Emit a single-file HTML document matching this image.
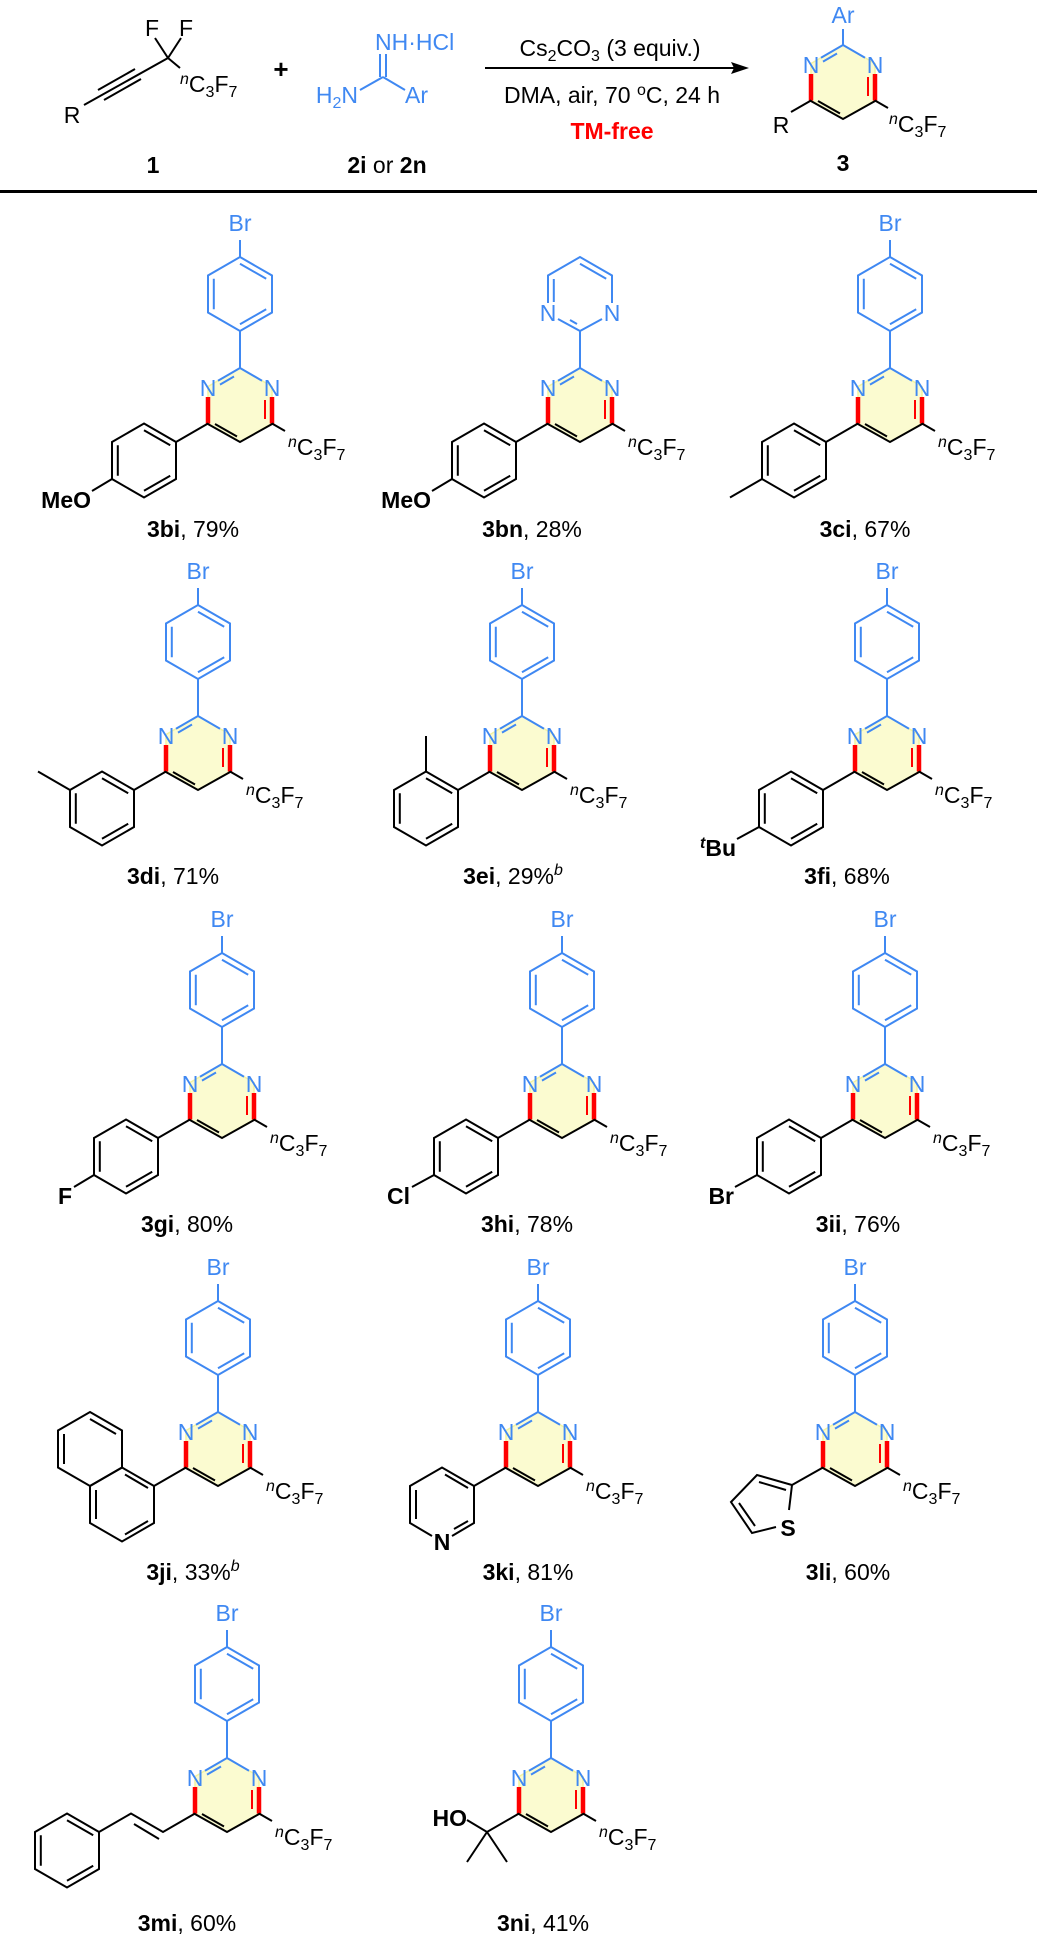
<!DOCTYPE html>
<html><head><meta charset="utf-8"><style>
html,body{margin:0;padding:0;background:#fff;}
svg{display:block;}
text{font-family:"Liberation Sans",Arial,sans-serif;}
</style></head><body>
<svg width="1037" height="1939" viewBox="0 0 1037 1939" xmlns="http://www.w3.org/2000/svg">
<defs>
<g id="hexA" fill="none">
  <polygon points="0,-37 32,-18.5 32,18.5 0,37 -32,18.5 -32,-18.5"/>
  <path d="M0,-30.3 L26.2,-15.2 M26.2,15.2 L0,30.3 M-26.2,15.2 L-26.2,-15.2"/>
</g>
<g id="pyr">
  <polygon points="0,0 -32,18.5 -32,55.5 0,74 32,55.5 32,18.5" fill="#fbfbd0" stroke="#f3f3a0" stroke-width="1.5"/>
  <g stroke="#3f88f2" stroke-width="2" fill="none">
    <path d="M0,0 L-22,12.7 M0,0 L22,12.7 M-6,8.5 L-20,16.6"/>
  </g>
  <path d="M-32,29 L-32,55.5" stroke="#ff0000" stroke-width="4.5"/>
  <path d="M32,29 L32,55.5" stroke="#ff0000" stroke-width="4.5"/>
  <path d="M25,32 L25,51" stroke="#ff0000" stroke-width="2"/>
  <g stroke="#000" stroke-width="2" fill="none">
    <path d="M-33,55.5 L0,74 L33,55.5 M-25,56 L-3,68.5 M32,55.5 L45,63"/>
  </g>
</g>
<g id="brph">
  <g stroke="#3f88f2" stroke-width="2" fill="none">
    <path d="M0,0 L0,-37 M0,-111 L0,-128"/>
    <use href="#hexA" transform="translate(0,-74)"/>
  </g>
</g>
<g id="aryl">
  <g stroke="#000" stroke-width="2" fill="none">
    <path d="M-32,55.5 L-64,74"/>
    <use href="#hexA" transform="translate(-96,92.5)"/>
  </g>
</g>
</defs>

<!-- ===== HEADER ===== -->
<g stroke="#000" stroke-width="2" fill="none">
  <path d="M168,58 L155,38 M168,58 L181,38 M168,58 L180,68"/>
  <path d="M168,58 L84,105"/>
  <path d="M141,79 L104,100 M135,69 L98,90"/>
</g>
<text x="152" y="36" font-size="23" text-anchor="middle">F</text>
<text x="186" y="36" font-size="23" text-anchor="middle">F</text>
<text x="180" y="92" font-size="23"><tspan font-style="italic" font-size="16" dy="-8">n</tspan><tspan dy="8">C</tspan><tspan font-size="16" dy="5">3</tspan><tspan dy="-5">F</tspan><tspan font-size="16" dy="5">7</tspan></text>
<text x="72" y="123" font-size="23" text-anchor="middle">R</text>
<text x="153" y="173" font-size="23" font-weight="bold" text-anchor="middle">1</text>
<text x="281" y="78" font-size="26" font-weight="bold" text-anchor="middle">+</text>

<g stroke="#3f88f2" stroke-width="2" fill="none">
  <path d="M380,54 L380,77 M386,54 L386,77 M383,77 L360,90 M383,77 L405,90"/>
</g>
<text x="375" y="50" font-size="23" fill="#3f88f2">NH·HCl</text>
<text x="358" y="103" font-size="23" fill="#3f88f2" text-anchor="end">H<tspan font-size="16" dy="5">2</tspan><tspan dy="-5">N</tspan></text>
<text x="405" y="103" font-size="23" fill="#3f88f2">Ar</text>
<text x="387" y="173" font-size="23" text-anchor="middle"><tspan font-weight="bold">2i</tspan> or <tspan font-weight="bold">2n</tspan></text>

<path d="M485,68 L740,68" stroke="#000" stroke-width="2"/>
<path d="M749,68 L731,62 L734,68 L731,74 Z" fill="#000"/>
<text x="610" y="56" font-size="23" text-anchor="middle">Cs<tspan font-size="16" dy="5">2</tspan><tspan dy="-5">CO</tspan><tspan font-size="16" dy="5">3</tspan><tspan dy="-5"> (3 equiv.)</tspan></text>
<text x="612" y="103" font-size="23" text-anchor="middle">DMA, air, 70 <tspan font-size="16" dy="-8">o</tspan><tspan dy="8">C, 24 h</tspan></text>
<text x="612" y="139" font-size="23" font-weight="bold" fill="#ff0000" text-anchor="middle">TM-free</text>

<g transform="translate(843,45)">
  <use href="#pyr"/>
  <path d="M0,0 L0,-16" stroke="#3f88f2" stroke-width="2"/>
  <path d="M-32,55.5 L-52,67" stroke="#000" stroke-width="2"/>
</g>
<text x="843" y="23" font-size="23" fill="#3f88f2" text-anchor="middle">Ar</text>
<text x="811" y="73" font-size="23" fill="#3f88f2" text-anchor="middle">N</text>
<text x="875" y="73" font-size="23" fill="#3f88f2" text-anchor="middle">N</text>
<text x="781" y="133" font-size="23" text-anchor="middle">R</text>
<text x="889" y="132" font-size="23"><tspan font-style="italic" font-size="16" dy="-8">n</tspan><tspan dy="8">C</tspan><tspan font-size="16" dy="5">3</tspan><tspan dy="-5">F</tspan><tspan font-size="16" dy="5">7</tspan></text>
<text x="843" y="171" font-size="23" font-weight="bold" text-anchor="middle">3</text>

<rect x="0" y="190" width="1037" height="3" fill="#000"/>

<!-- ===== ROW 1 ===== -->
<g transform="translate(240,368)">
  <use href="#pyr"/><use href="#brph"/><use href="#aryl"/>
  <path d="M-128,111 L-148,123" stroke="#000" stroke-width="2"/>
  <text x="0" y="-137" font-size="23" fill="#3f88f2" text-anchor="middle">Br</text>
  <text x="-32" y="28" font-size="23" fill="#3f88f2" text-anchor="middle">N</text>
  <text x="32" y="28" font-size="23" fill="#3f88f2" text-anchor="middle">N</text>
  <text x="48" y="87" font-size="23"><tspan font-style="italic" font-size="16" dy="-8">n</tspan><tspan dy="8">C</tspan><tspan font-size="16" dy="5">3</tspan><tspan dy="-5">F</tspan><tspan font-size="16" dy="5">7</tspan></text>
  <text x="-149" y="140" font-size="23" font-weight="bold" text-anchor="end">MeO</text>
</g>
<text x="193" y="537" font-size="23" text-anchor="middle"><tspan font-weight="bold">3bi</tspan>, 79%</text>

<g transform="translate(580,368)">
  <use href="#pyr"/><use href="#aryl"/>
  <g stroke="#3f88f2" stroke-width="2" fill="none">
    <path d="M0,0 L0,-37 L-22,-49 M-32,-65 L-32,-92.5 L0,-111 L32,-92.5 L32,-65 M22,-49 L0,-37"/>
    <path d="M-26.2,-66 L-26.2,-89 M0,-104.3 L26.2,-89.2 M-3,-44 L-10,-48"/>
  </g>
  <text x="-32" y="-47" font-size="23" fill="#3f88f2" text-anchor="middle">N</text>
  <text x="32" y="-47" font-size="23" fill="#3f88f2" text-anchor="middle">N</text>
  <text x="-32" y="28" font-size="23" fill="#3f88f2" text-anchor="middle">N</text>
  <text x="32" y="28" font-size="23" fill="#3f88f2" text-anchor="middle">N</text>
  <text x="48" y="87" font-size="23"><tspan font-style="italic" font-size="16" dy="-8">n</tspan><tspan dy="8">C</tspan><tspan font-size="16" dy="5">3</tspan><tspan dy="-5">F</tspan><tspan font-size="16" dy="5">7</tspan></text>
  <path d="M-128,111 L-148,123" stroke="#000" stroke-width="2"/>
  <text x="-149" y="140" font-size="23" font-weight="bold" text-anchor="end">MeO</text>
</g>
<text x="532" y="537" font-size="23" text-anchor="middle"><tspan font-weight="bold">3bn</tspan>, 28%</text>

<g transform="translate(890,368)">
  <use href="#pyr"/><use href="#brph"/><use href="#aryl"/>
  <path d="M-128,111 L-160,129.5" stroke="#000" stroke-width="2"/>
  <text x="0" y="-137" font-size="23" fill="#3f88f2" text-anchor="middle">Br</text>
  <text x="-32" y="28" font-size="23" fill="#3f88f2" text-anchor="middle">N</text>
  <text x="32" y="28" font-size="23" fill="#3f88f2" text-anchor="middle">N</text>
  <text x="48" y="87" font-size="23"><tspan font-style="italic" font-size="16" dy="-8">n</tspan><tspan dy="8">C</tspan><tspan font-size="16" dy="5">3</tspan><tspan dy="-5">F</tspan><tspan font-size="16" dy="5">7</tspan></text>
</g>
<text x="865" y="537" font-size="23" text-anchor="middle"><tspan font-weight="bold">3ci</tspan>, 67%</text>

<!-- ===== ROW 2 ===== -->
<g transform="translate(198,716)">
  <use href="#pyr"/><use href="#brph"/><use href="#aryl"/>
  <path d="M-128,74 L-160,55.5" stroke="#000" stroke-width="2"/>
  <text x="0" y="-137" font-size="23" fill="#3f88f2" text-anchor="middle">Br</text>
  <text x="-32" y="28" font-size="23" fill="#3f88f2" text-anchor="middle">N</text>
  <text x="32" y="28" font-size="23" fill="#3f88f2" text-anchor="middle">N</text>
  <text x="48" y="87" font-size="23"><tspan font-style="italic" font-size="16" dy="-8">n</tspan><tspan dy="8">C</tspan><tspan font-size="16" dy="5">3</tspan><tspan dy="-5">F</tspan><tspan font-size="16" dy="5">7</tspan></text>
</g>
<text x="173" y="884" font-size="23" text-anchor="middle"><tspan font-weight="bold">3di</tspan>, 71%</text>

<g transform="translate(522,716)">
  <use href="#pyr"/><use href="#brph"/><use href="#aryl"/>
  <path d="M-96,55.5 L-96,20" stroke="#000" stroke-width="2"/>
  <text x="0" y="-137" font-size="23" fill="#3f88f2" text-anchor="middle">Br</text>
  <text x="-32" y="28" font-size="23" fill="#3f88f2" text-anchor="middle">N</text>
  <text x="32" y="28" font-size="23" fill="#3f88f2" text-anchor="middle">N</text>
  <text x="48" y="87" font-size="23"><tspan font-style="italic" font-size="16" dy="-8">n</tspan><tspan dy="8">C</tspan><tspan font-size="16" dy="5">3</tspan><tspan dy="-5">F</tspan><tspan font-size="16" dy="5">7</tspan></text>
</g>
<text x="513" y="884" font-size="23" text-anchor="middle"><tspan font-weight="bold">3ei</tspan>, 29%<tspan font-style="italic" font-size="16" dy="-9">b</tspan></text>

<g transform="translate(887,716)">
  <use href="#pyr"/><use href="#brph"/><use href="#aryl"/>
  <path d="M-128,111 L-150,123" stroke="#000" stroke-width="2"/>
  <text x="0" y="-137" font-size="23" fill="#3f88f2" text-anchor="middle">Br</text>
  <text x="-32" y="28" font-size="23" fill="#3f88f2" text-anchor="middle">N</text>
  <text x="32" y="28" font-size="23" fill="#3f88f2" text-anchor="middle">N</text>
  <text x="48" y="87" font-size="23"><tspan font-style="italic" font-size="16" dy="-8">n</tspan><tspan dy="8">C</tspan><tspan font-size="16" dy="5">3</tspan><tspan dy="-5">F</tspan><tspan font-size="16" dy="5">7</tspan></text>
  <text x="-151" y="140" font-size="23" font-weight="bold" text-anchor="end"><tspan font-style="italic" font-size="16" dy="-8">t</tspan><tspan dy="8">Bu</tspan></text>
</g>
<text x="847" y="884" font-size="23" text-anchor="middle"><tspan font-weight="bold">3fi</tspan>, 68%</text>

<!-- ===== ROW 3 ===== -->
<g transform="translate(222,1064)">
  <use href="#pyr"/><use href="#brph"/><use href="#aryl"/>
  <path d="M-128,111 L-148,123" stroke="#000" stroke-width="2"/>
  <text x="0" y="-137" font-size="23" fill="#3f88f2" text-anchor="middle">Br</text>
  <text x="-32" y="28" font-size="23" fill="#3f88f2" text-anchor="middle">N</text>
  <text x="32" y="28" font-size="23" fill="#3f88f2" text-anchor="middle">N</text>
  <text x="48" y="87" font-size="23"><tspan font-style="italic" font-size="16" dy="-8">n</tspan><tspan dy="8">C</tspan><tspan font-size="16" dy="5">3</tspan><tspan dy="-5">F</tspan><tspan font-size="16" dy="5">7</tspan></text>
  <text x="-150" y="140" font-size="23" font-weight="bold" text-anchor="end">F</text>
</g>
<text x="187" y="1232" font-size="23" text-anchor="middle"><tspan font-weight="bold">3gi</tspan>, 80%</text>

<g transform="translate(562,1064)">
  <use href="#pyr"/><use href="#brph"/><use href="#aryl"/>
  <path d="M-128,111 L-150,123" stroke="#000" stroke-width="2"/>
  <text x="0" y="-137" font-size="23" fill="#3f88f2" text-anchor="middle">Br</text>
  <text x="-32" y="28" font-size="23" fill="#3f88f2" text-anchor="middle">N</text>
  <text x="32" y="28" font-size="23" fill="#3f88f2" text-anchor="middle">N</text>
  <text x="48" y="87" font-size="23"><tspan font-style="italic" font-size="16" dy="-8">n</tspan><tspan dy="8">C</tspan><tspan font-size="16" dy="5">3</tspan><tspan dy="-5">F</tspan><tspan font-size="16" dy="5">7</tspan></text>
  <text x="-152" y="140" font-size="23" font-weight="bold" text-anchor="end">Cl</text>
</g>
<text x="527" y="1232" font-size="23" text-anchor="middle"><tspan font-weight="bold">3hi</tspan>, 78%</text>

<g transform="translate(885,1064)">
  <use href="#pyr"/><use href="#brph"/><use href="#aryl"/>
  <path d="M-128,111 L-150,123" stroke="#000" stroke-width="2"/>
  <text x="0" y="-137" font-size="23" fill="#3f88f2" text-anchor="middle">Br</text>
  <text x="-32" y="28" font-size="23" fill="#3f88f2" text-anchor="middle">N</text>
  <text x="32" y="28" font-size="23" fill="#3f88f2" text-anchor="middle">N</text>
  <text x="48" y="87" font-size="23"><tspan font-style="italic" font-size="16" dy="-8">n</tspan><tspan dy="8">C</tspan><tspan font-size="16" dy="5">3</tspan><tspan dy="-5">F</tspan><tspan font-size="16" dy="5">7</tspan></text>
  <text x="-151" y="140" font-size="23" font-weight="bold" text-anchor="end">Br</text>
</g>
<text x="858" y="1232" font-size="23" text-anchor="middle"><tspan font-weight="bold">3ii</tspan>, 76%</text>

<!-- ===== ROW 4 ===== -->
<g transform="translate(218,1412)">
  <use href="#pyr"/><use href="#brph"/>
  <g stroke="#000" stroke-width="2" fill="none">
    <path d="M-32,55.5 L-64,74"/>
    <polygon points="-96,55.5 -64,74 -64,111 -96,129.5 -128,111 -128,74"/>
    <path d="M-93,62.5 L-70,76 M-70,109 L-93,122.5 M-122,107 L-122,78"/>
    <polygon points="-128,0 -96,18.5 -96,55.5 -128,74 -160,55.5 -160,18.5"/>
    <path d="M-154,52 L-154,22 M-128,7 L-102,22"/>
  </g>
  <text x="0" y="-137" font-size="23" fill="#3f88f2" text-anchor="middle">Br</text>
  <text x="-32" y="28" font-size="23" fill="#3f88f2" text-anchor="middle">N</text>
  <text x="32" y="28" font-size="23" fill="#3f88f2" text-anchor="middle">N</text>
  <text x="48" y="87" font-size="23"><tspan font-style="italic" font-size="16" dy="-8">n</tspan><tspan dy="8">C</tspan><tspan font-size="16" dy="5">3</tspan><tspan dy="-5">F</tspan><tspan font-size="16" dy="5">7</tspan></text>
</g>
<text x="193" y="1580" font-size="23" text-anchor="middle"><tspan font-weight="bold">3ji</tspan>, 33%<tspan font-style="italic" font-size="16" dy="-9">b</tspan></text>

<g transform="translate(538,1412)">
  <use href="#pyr"/><use href="#brph"/>
  <g stroke="#000" stroke-width="2" fill="none">
    <path d="M-32,55.5 L-64,74"/>
    <path d="M-106,124 L-128,111 L-128,74 L-96,55.5 L-64,74 L-64,111 L-86,124"/>
    <path d="M-93,62.5 L-70,76 M-70,109 L-84,117 M-122,107 L-122,78"/>
  </g>
  <text x="-96" y="138" font-size="23" font-weight="bold" text-anchor="middle">N</text>
  <text x="0" y="-137" font-size="23" fill="#3f88f2" text-anchor="middle">Br</text>
  <text x="-32" y="28" font-size="23" fill="#3f88f2" text-anchor="middle">N</text>
  <text x="32" y="28" font-size="23" fill="#3f88f2" text-anchor="middle">N</text>
  <text x="48" y="87" font-size="23"><tspan font-style="italic" font-size="16" dy="-8">n</tspan><tspan dy="8">C</tspan><tspan font-size="16" dy="5">3</tspan><tspan dy="-5">F</tspan><tspan font-size="16" dy="5">7</tspan></text>
</g>
<text x="528" y="1580" font-size="23" text-anchor="middle"><tspan font-weight="bold">3ki</tspan>, 81%</text>

<g transform="translate(855,1412)">
  <use href="#pyr"/><use href="#brph"/>
  <g stroke="#000" stroke-width="2" fill="none">
    <path d="M-32,55.5 L-63,73"/>
    <path d="M-66,98 L-63,73 L-98,63 L-124,90 L-103,121 L-79,115"/>
    <path d="M-69,78 L-96,70 M-116,91 L-100,114"/>
  </g>
  <text x="-67" y="124" font-size="23" font-weight="bold" text-anchor="middle">S</text>
  <text x="0" y="-137" font-size="23" fill="#3f88f2" text-anchor="middle">Br</text>
  <text x="-32" y="28" font-size="23" fill="#3f88f2" text-anchor="middle">N</text>
  <text x="32" y="28" font-size="23" fill="#3f88f2" text-anchor="middle">N</text>
  <text x="48" y="87" font-size="23"><tspan font-style="italic" font-size="16" dy="-8">n</tspan><tspan dy="8">C</tspan><tspan font-size="16" dy="5">3</tspan><tspan dy="-5">F</tspan><tspan font-size="16" dy="5">7</tspan></text>
</g>
<text x="848" y="1580" font-size="23" text-anchor="middle"><tspan font-weight="bold">3li</tspan>, 60%</text>

<!-- ===== ROW 5 ===== -->
<g transform="translate(227,1758)">
  <use href="#pyr"/><use href="#brph"/>
  <g stroke="#000" stroke-width="2" fill="none">
    <path d="M-32,55.5 L-64,74 L-96,55.5 L-128,74 M-68,81 L-93,66"/>
    <use href="#hexA" transform="translate(-160,92.5)"/>
  </g>
  <text x="0" y="-137" font-size="23" fill="#3f88f2" text-anchor="middle">Br</text>
  <text x="-32" y="28" font-size="23" fill="#3f88f2" text-anchor="middle">N</text>
  <text x="32" y="28" font-size="23" fill="#3f88f2" text-anchor="middle">N</text>
  <text x="48" y="87" font-size="23"><tspan font-style="italic" font-size="16" dy="-8">n</tspan><tspan dy="8">C</tspan><tspan font-size="16" dy="5">3</tspan><tspan dy="-5">F</tspan><tspan font-size="16" dy="5">7</tspan></text>
</g>
<text x="187" y="1931" font-size="23" text-anchor="middle"><tspan font-weight="bold">3mi</tspan>, 60%</text>

<g transform="translate(551,1758)">
  <use href="#pyr"/><use href="#brph"/>
  <g stroke="#000" stroke-width="2" fill="none">
    <path d="M-32,55.5 L-64,74 L-84,62 M-64,74 L-84,104 M-64,74 L-44,104"/>
  </g>
  <text x="-84" y="68" font-size="23" font-weight="bold" text-anchor="end">HO</text>
  <text x="0" y="-137" font-size="23" fill="#3f88f2" text-anchor="middle">Br</text>
  <text x="-32" y="28" font-size="23" fill="#3f88f2" text-anchor="middle">N</text>
  <text x="32" y="28" font-size="23" fill="#3f88f2" text-anchor="middle">N</text>
  <text x="48" y="87" font-size="23"><tspan font-style="italic" font-size="16" dy="-8">n</tspan><tspan dy="8">C</tspan><tspan font-size="16" dy="5">3</tspan><tspan dy="-5">F</tspan><tspan font-size="16" dy="5">7</tspan></text>
</g>
<text x="543" y="1931" font-size="23" text-anchor="middle"><tspan font-weight="bold">3ni</tspan>, 41%</text>
</svg>
</body></html>
